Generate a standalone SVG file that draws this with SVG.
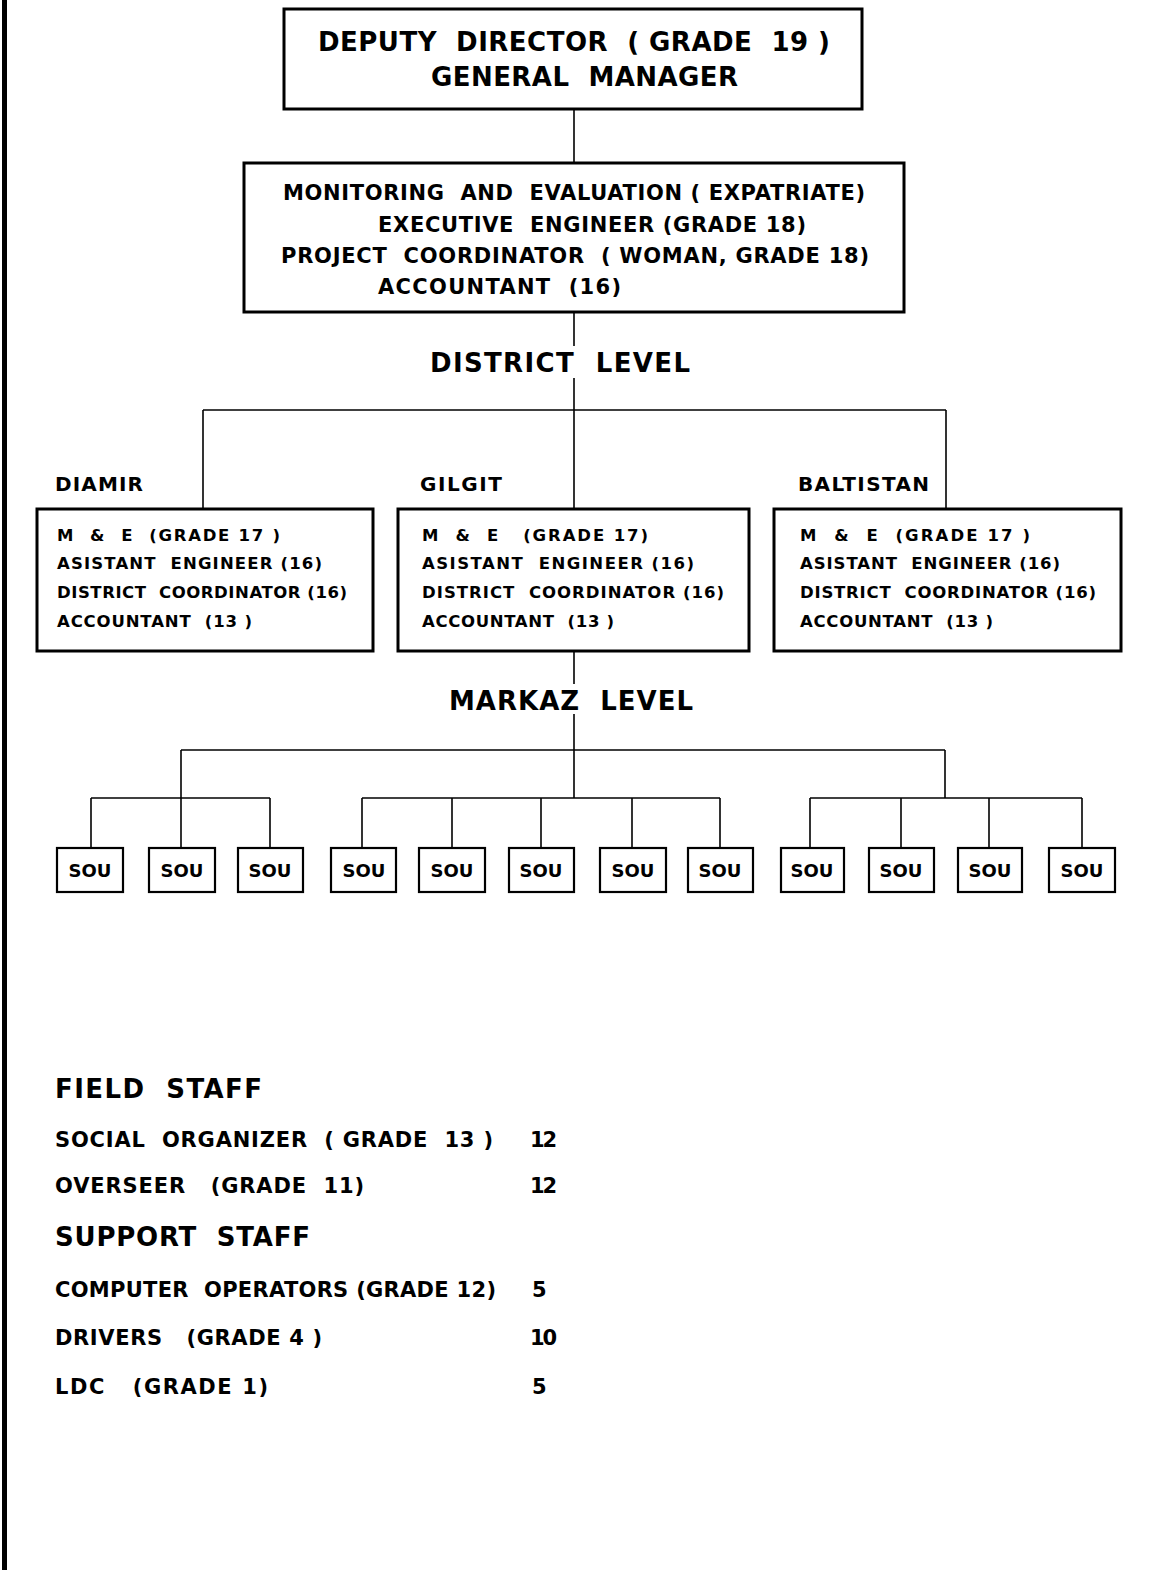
<svg xmlns="http://www.w3.org/2000/svg" width="1158" height="1570" viewBox="0 0 1158 1570">
<style>
.box{fill:#fff;stroke:#000;stroke-width:3}
.sou{fill:#fff;stroke:#000;stroke-width:2.2}
.conn line{stroke:#000;stroke-width:1.6}
text{font-family:"DejaVu Sans","Liberation Sans",Arial,sans-serif;font-weight:bold;fill:#000;white-space:pre}
.t1{font-size:26px}
.t2{font-size:21px}
.t3{font-size:16.5px}
.t4{font-size:20px}
.t5{font-size:21px}
.s{font-size:18px;text-anchor:middle}
</style>
<rect x="0" y="0" width="1158" height="1570" fill="#fff"/>
<rect x="2" y="0" width="5" height="1570" fill="#000"/>

<g class="conn" id="connectors">
<line x1="574" y1="109" x2="574" y2="162"/>
<line x1="574" y1="312" x2="574" y2="346"/>
<line x1="574" y1="378" x2="574" y2="508"/>
<line x1="203" y1="410" x2="946" y2="410"/>
<line x1="203" y1="410" x2="203" y2="508"/>
<line x1="946" y1="410" x2="946" y2="508"/>
<line x1="574" y1="651" x2="574" y2="684"/>
<line x1="574" y1="714" x2="574" y2="798"/>
<line x1="181" y1="750" x2="945" y2="750"/>
<line x1="181" y1="750" x2="181" y2="848"/>
<line x1="945" y1="750" x2="945" y2="798"/>
<line x1="91" y1="798" x2="270" y2="798"/>
<line x1="362" y1="798" x2="720" y2="798"/>
<line x1="810" y1="798" x2="1082" y2="798"/>
<line x1="91" y1="798" x2="91" y2="848"/>
<line x1="270" y1="798" x2="270" y2="848"/>
<line x1="362" y1="798" x2="362" y2="848"/>
<line x1="452" y1="798" x2="452" y2="848"/>
<line x1="541" y1="798" x2="541" y2="848"/>
<line x1="632" y1="798" x2="632" y2="848"/>
<line x1="720" y1="798" x2="720" y2="848"/>
<line x1="810" y1="798" x2="810" y2="848"/>
<line x1="901" y1="798" x2="901" y2="848"/>
<line x1="989" y1="798" x2="989" y2="848"/>
<line x1="1082" y1="798" x2="1082" y2="848"/>
</g>

<g id="deputy-director">
<rect class="box" x="284" y="9" width="578" height="100"/>
<text class="t1" x="318" y="51" textLength="512" lengthAdjust="spacing">DEPUTY  DIRECTOR  ( GRADE  19 )</text>
<text class="t1" x="431" y="86" textLength="307" lengthAdjust="spacing">GENERAL  MANAGER</text>
</g>

<g id="head-office">
<rect class="box" x="244" y="163" width="660" height="149"/>
<text class="t2" x="283" y="200" textLength="582" lengthAdjust="spacing">MONITORING  AND  EVALUATION ( EXPATRIATE)</text>
<text class="t2" x="378" y="232" textLength="428" lengthAdjust="spacing">EXECUTIVE  ENGINEER (GRADE 18)</text>
<text class="t2" x="281" y="263" textLength="588" lengthAdjust="spacing">PROJECT  COORDINATOR  ( WOMAN, GRADE 18)</text>
<text class="t2" x="378" y="294" textLength="243" lengthAdjust="spacing">ACCOUNTANT  (16)</text>
</g>

<g id="district-level-label">
<text class="t1" x="430" y="372" textLength="260" lengthAdjust="spacing">DISTRICT  LEVEL</text>
</g>

<g id="diamir">
<text class="t4" x="55" y="491" textLength="88" lengthAdjust="spacing">DIAMIR</text>
<rect class="box" x="37" y="509" width="336" height="142"/>
<text class="t3" x="57" y="541" textLength="223" lengthAdjust="spacing">M  &amp;  E  (GRADE 17 )</text>
<text class="t3" x="57" y="569" textLength="265" lengthAdjust="spacing">ASISTANT  ENGINEER (16)</text>
<text class="t3" x="57" y="598" textLength="290" lengthAdjust="spacing">DISTRICT  COORDINATOR (16)</text>
<text class="t3" x="57" y="627" textLength="195" lengthAdjust="spacing">ACCOUNTANT  (13 )</text>
</g>

<g id="gilgit">
<text class="t4" x="420" y="491" textLength="82" lengthAdjust="spacing">GILGIT</text>
<rect class="box" x="398" y="509" width="351" height="142"/>
<text class="t3" x="422" y="541" textLength="226" lengthAdjust="spacing">M  &amp;  E   (GRADE 17)</text>
<text class="t3" x="422" y="569" textLength="272" lengthAdjust="spacing">ASISTANT  ENGINEER (16)</text>
<text class="t3" x="422" y="598" textLength="302" lengthAdjust="spacing">DISTRICT  COORDINATOR (16)</text>
<text class="t3" x="422" y="627" textLength="192" lengthAdjust="spacing">ACCOUNTANT  (13 )</text>
</g>

<g id="baltistan">
<text class="t4" x="798" y="491" textLength="131" lengthAdjust="spacing">BALTISTAN</text>
<rect class="box" x="774" y="509" width="347" height="142"/>
<text class="t3" x="800" y="541" textLength="230" lengthAdjust="spacing">M  &amp;  E  (GRADE 17 )</text>
<text class="t3" x="800" y="569" textLength="260" lengthAdjust="spacing">ASISTANT  ENGINEER (16)</text>
<text class="t3" x="800" y="598" textLength="296" lengthAdjust="spacing">DISTRICT  COORDINATOR (16)</text>
<text class="t3" x="800" y="627" textLength="193" lengthAdjust="spacing">ACCOUNTANT  (13 )</text>
</g>

<g id="markaz-level-label">
<text class="t1" x="449" y="710" textLength="244" lengthAdjust="spacing">MARKAZ  LEVEL</text>
</g>

<g id="sou-1"><rect class="sou" x="57" y="848" width="66" height="44"/><text class="s" x="90" y="877">SOU</text></g>
<g id="sou-2"><rect class="sou" x="149" y="848" width="66" height="44"/><text class="s" x="182" y="877">SOU</text></g>
<g id="sou-3"><rect class="sou" x="238" y="848" width="65" height="44"/><text class="s" x="270" y="877">SOU</text></g>
<g id="sou-4"><rect class="sou" x="331" y="848" width="65" height="44"/><text class="s" x="364" y="877">SOU</text></g>
<g id="sou-5"><rect class="sou" x="419" y="848" width="66" height="44"/><text class="s" x="452" y="877">SOU</text></g>
<g id="sou-6"><rect class="sou" x="509" y="848" width="65" height="44"/><text class="s" x="541" y="877">SOU</text></g>
<g id="sou-7"><rect class="sou" x="600" y="848" width="66" height="44"/><text class="s" x="633" y="877">SOU</text></g>
<g id="sou-8"><rect class="sou" x="688" y="848" width="65" height="44"/><text class="s" x="720" y="877">SOU</text></g>
<g id="sou-9"><rect class="sou" x="781" y="848" width="63" height="44"/><text class="s" x="812" y="877">SOU</text></g>
<g id="sou-10"><rect class="sou" x="869" y="848" width="65" height="44"/><text class="s" x="901" y="877">SOU</text></g>
<g id="sou-11"><rect class="sou" x="958" y="848" width="64" height="44"/><text class="s" x="990" y="877">SOU</text></g>
<g id="sou-12"><rect class="sou" x="1049" y="848" width="66" height="44"/><text class="s" x="1082" y="877">SOU</text></g>

<g id="staff-list">
<text class="t1" x="55" y="1098" textLength="207" lengthAdjust="spacing">FIELD  STAFF</text>
<text class="t5" x="55" y="1147" textLength="438" lengthAdjust="spacing">SOCIAL  ORGANIZER  ( GRADE  13 )</text>
<text class="t5" x="530" y="1147" textLength="27" lengthAdjust="spacing">12</text>
<text class="t5" x="55" y="1193" textLength="309" lengthAdjust="spacing">OVERSEER   (GRADE  11)</text>
<text class="t5" x="530" y="1193" textLength="27" lengthAdjust="spacing">12</text>
<text class="t1" x="55" y="1246" textLength="255" lengthAdjust="spacing">SUPPORT  STAFF</text>
<text class="t5" x="55" y="1297" textLength="441" lengthAdjust="spacing">COMPUTER  OPERATORS (GRADE 12)</text>
<text class="t5" x="532" y="1297">5</text>
<text class="t5" x="55" y="1345" textLength="267" lengthAdjust="spacing">DRIVERS   (GRADE 4 )</text>
<text class="t5" x="530" y="1345" textLength="27" lengthAdjust="spacing">10</text>
<text class="t5" x="55" y="1394" textLength="213" lengthAdjust="spacing">LDC   (GRADE 1)</text>
<text class="t5" x="532" y="1394">5</text>
</g>
</svg>
